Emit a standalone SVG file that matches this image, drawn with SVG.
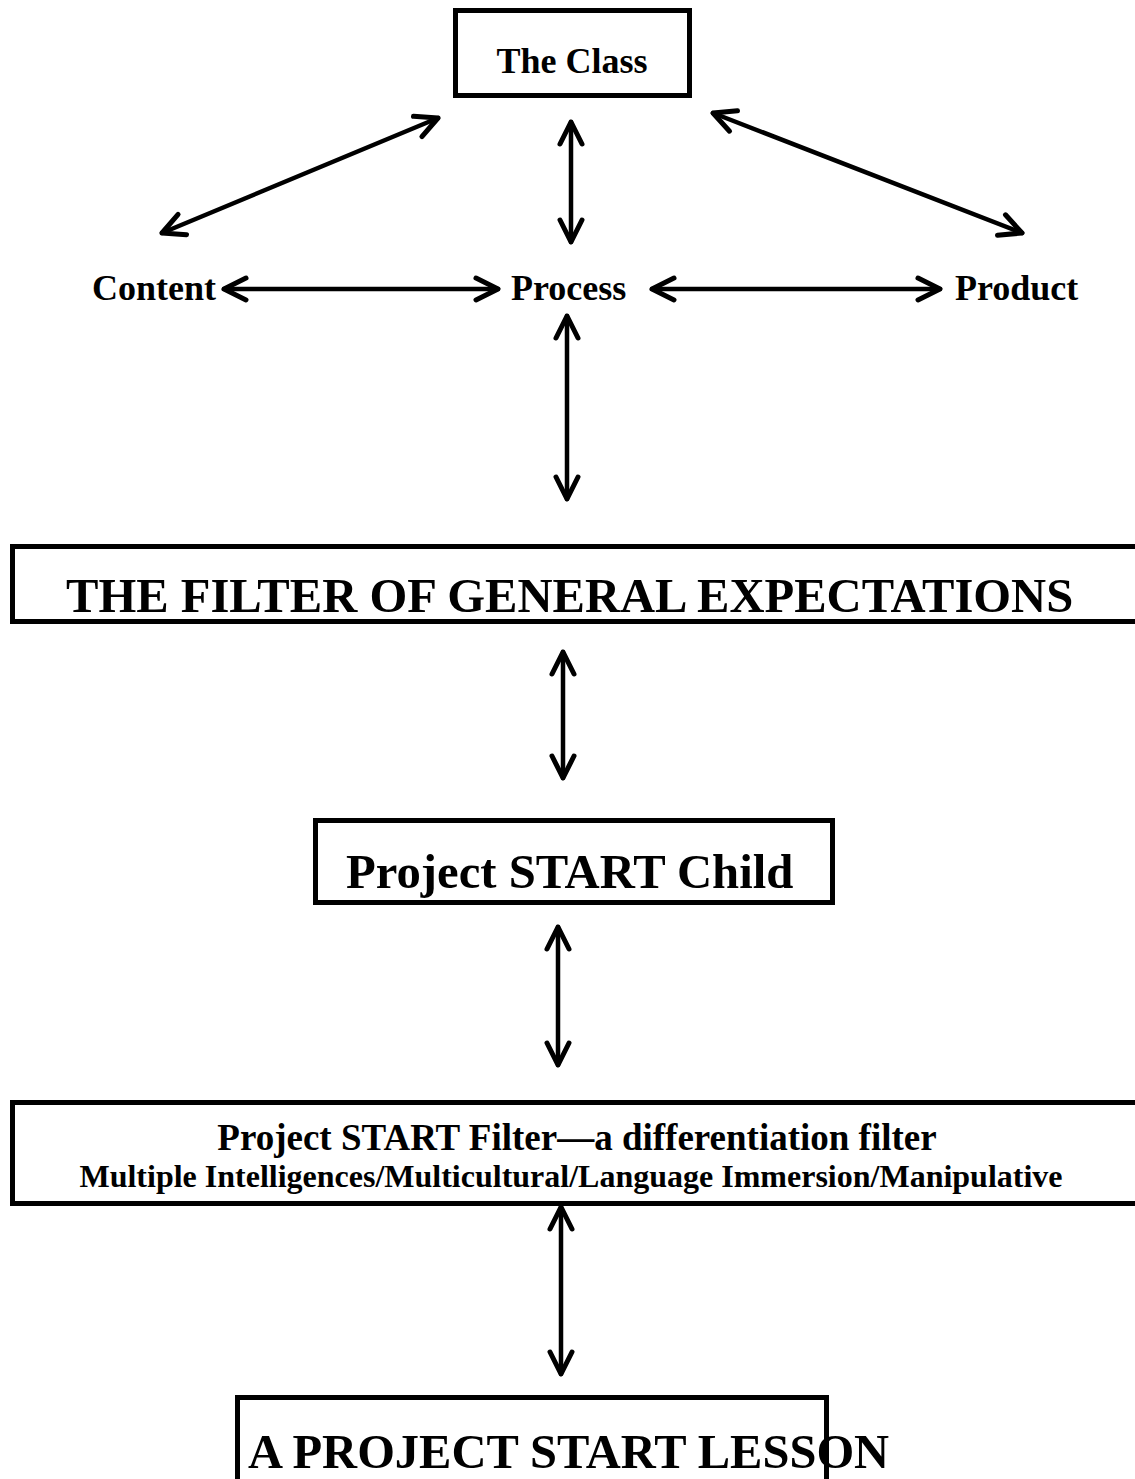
<svg xmlns="http://www.w3.org/2000/svg" width="1135" height="1479" viewBox="0 0 1135 1479">
<style>
.box{fill:#fff;stroke:#000;stroke-width:5}
.t{font-family:"Liberation Serif","Times New Roman",serif;font-weight:bold;fill:#000}
.c{fill:none;stroke:#000;stroke-width:4.5;stroke-linecap:round}
</style>
<defs>
<marker id="ah" viewBox="-30 -15 36 30" markerWidth="36" markerHeight="30" refX="0" refY="0" orient="auto-start-reverse" markerUnits="userSpaceOnUse">
<path d="M-22,-11 L0,0 L-22,11" fill="none" stroke="#000" stroke-width="5" stroke-linecap="round" stroke-linejoin="round"/>
</marker>
</defs>
<rect width="1135" height="1479" fill="#fff"/>
<g id="class"><rect class="box" x="455.5" y="10.5" width="234" height="85"/><text class="t" x="572" y="73" font-size="36" text-anchor="middle">The Class</text></g>
<g id="content"><text class="t" x="92" y="300" font-size="36">Content</text></g>
<g id="process"><text class="t" x="511" y="300" font-size="36">Process</text></g>
<g id="product"><text class="t" x="955" y="300" font-size="36">Product</text></g>
<g id="filter"><rect class="box" x="12.5" y="546.5" width="1140" height="75"/><text class="t" x="66" y="612" font-size="48.6">THE FILTER OF GENERAL EXPECTATIONS</text></g>
<g id="child"><rect class="box" x="315.5" y="820.5" width="517" height="82"/><text class="t" x="346" y="888" font-size="48.7">Project START Child</text></g>
<g id="startfilter"><rect class="box" x="12.5" y="1102.5" width="1140" height="101"/><text class="t" x="577" y="1150" font-size="37" text-anchor="middle">Project START Filter—a differentiation filter</text><text class="t" x="571" y="1187" font-size="32" text-anchor="middle">Multiple Intelligences/Multicultural/Language Immersion/Manipulative</text></g>
<g id="lesson"><rect class="box" x="237.5" y="1397.5" width="589" height="100"/><text class="t" x="248" y="1468" font-size="48.5">A PROJECT START LESSON</text></g>
<g id="connectors">
<line class="c" x1="438" y1="118" x2="162" y2="233" marker-start="url(#ah)" marker-end="url(#ah)"/>
<line class="c" x1="571" y1="122" x2="571" y2="242" marker-start="url(#ah)" marker-end="url(#ah)"/>
<line class="c" x1="713" y1="113" x2="1022" y2="233" marker-start="url(#ah)" marker-end="url(#ah)"/>
<line class="c" x1="224" y1="289" x2="498" y2="289" marker-start="url(#ah)" marker-end="url(#ah)"/>
<line class="c" x1="652" y1="289" x2="940" y2="289" marker-start="url(#ah)" marker-end="url(#ah)"/>
<line class="c" x1="567" y1="316" x2="567" y2="499" marker-start="url(#ah)" marker-end="url(#ah)"/>
<line class="c" x1="563" y1="652" x2="563" y2="778" marker-start="url(#ah)" marker-end="url(#ah)"/>
<line class="c" x1="558" y1="927" x2="558" y2="1065" marker-start="url(#ah)" marker-end="url(#ah)"/>
<line class="c" x1="561" y1="1207" x2="561" y2="1374" marker-start="url(#ah)" marker-end="url(#ah)"/>
</g>
</svg>
